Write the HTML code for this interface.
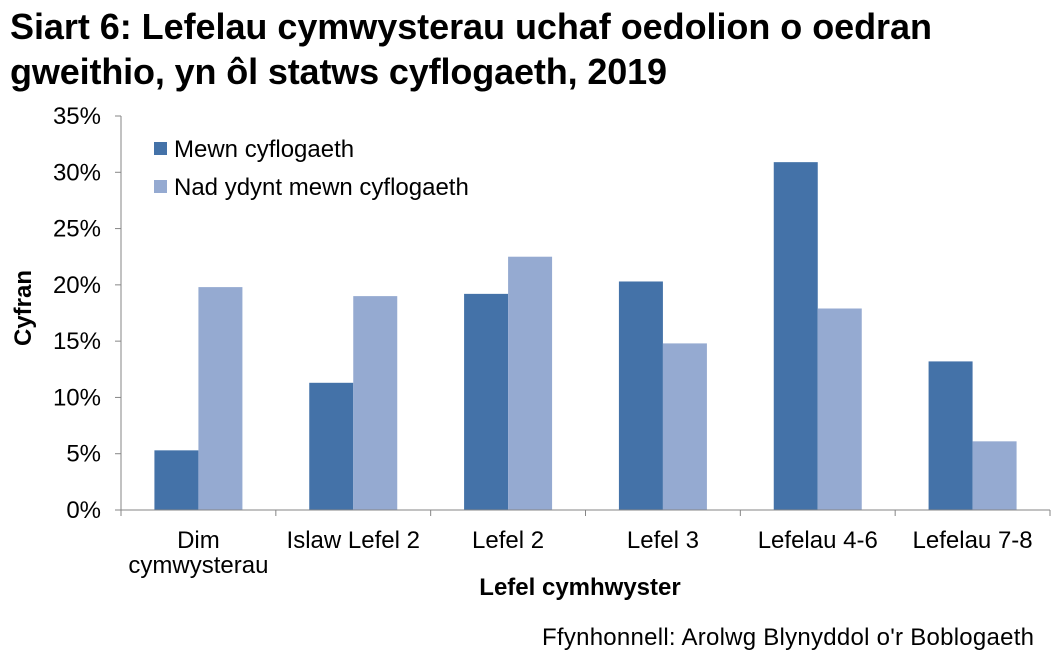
<!DOCTYPE html>
<html><head><meta charset="utf-8"><style>
body{margin:0;background:#fff;font-family:"Liberation Sans",Arial,sans-serif;}
svg text{font-family:"Liberation Sans",Arial,sans-serif;}
</style></head><body>
<svg id="c" width="1061" height="662">
<text x="10" y="39" font-size="36" font-weight="bold" fill="#000" textLength="922">Siart 6: Lefelau cymwysterau uchaf oedolion o oedran</text>
<text x="10" y="84" font-size="36" font-weight="bold" fill="#000" textLength="657">gweithio, yn ôl statws cyflogaeth, 2019</text>
<g id="plot"></g>
<text transform="translate(31,308) rotate(-90)" text-anchor="middle" font-size="24" font-weight="bold">Cyfran</text>
<text x="580" y="595" text-anchor="middle" font-size="24" font-weight="bold">Lefel cymhwyster</text>
<text x="1034" y="645" text-anchor="end" font-size="24" textLength="492">Ffynhonnell: Arolwg Blynyddol o'r Boblogaeth</text>
<rect x="154" y="142" width="13" height="13" fill="#4472A8"/>
<text x="174" y="157" font-size="24">Mewn cyflogaeth</text>
<rect x="154" y="180" width="13" height="13" fill="#95AAD1"/>
<text x="174" y="195" font-size="24">Nad ydynt mewn cyflogaeth</text>
</svg>
<script>
const categories=[["Dim","cymwysterau"],["Islaw Lefel 2"],["Lefel 2"],["Lefel 3"],["Lefelau 4-6"],["Lefelau 7-8"]];
const employed=[5.3,11.3,19.2,20.3,30.9,13.2];
const notEmployed=[19.8,19.0,22.5,14.8,17.9,6.1];
const yTicks=[0,5,10,15,20,25,30,35];
const NS="http://www.w3.org/2000/svg";
const g=document.getElementById('plot');
const x0=121,x1=1050,y0=510,y1=116,yMax=35;
const y=v=>y0-(v/yMax)*(y0-y1);
const gw=(x1-x0)/categories.length;
const bw=44;
function mk(t,a){const e=document.createElementNS(NS,t);for(const k in a)e.setAttribute(k,a[k]);g.appendChild(e);return e;}
yTicks.forEach(t=>{
 const l=mk('line',{x1:x0-6,x2:x0,y1:y(t),y2:y(t),stroke:'#868686'});
 
 
 const tx=mk('text',{x:x0-20,y:y(t)+8,'text-anchor':'end','font-size':24});
 tx.textContent=t+'%';
 
 
});
categories.forEach((c,i)=>{
 const cx=x0+gw*(i+0.5);
 const r1=mk('rect',{x:cx-bw,y:y(employed[i]),width:bw,height:y0-y(employed[i]),fill:'#4472A8'});
 
 
 const r2=mk('rect',{x:cx,y:y(notEmployed[i]),width:bw,height:y0-y(notEmployed[i]),fill:'#95AAD1'});
 
 
 c.forEach((s,j)=>{
  const t=mk('text',{x:cx,y:548+j*25,'text-anchor':'middle','font-size':24});
  t.textContent=s;
  
  
 });
});
for(let i=0;i<=categories.length;i++){
 const xx=x0+gw*i;
 const l=mk('line',{x1:xx,x2:xx,y1:y0,y2:y0+6,stroke:'#868686'});
 
 
}
const ya=mk('line',{x1:x0,x2:x0,y1:y1,y2:y0,stroke:'#868686'});


const xa=mk('line',{x1:x0,x2:x1,y1:y0,y2:y0,stroke:'#868686'});


</script>
</body></html>
